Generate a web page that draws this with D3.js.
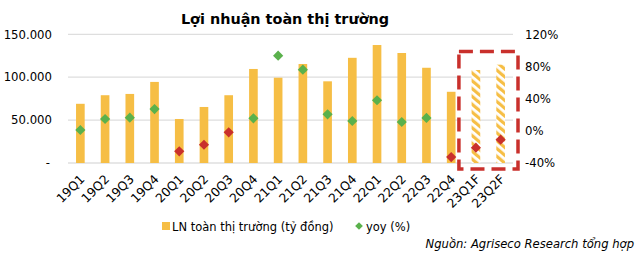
<!DOCTYPE html>
<html><head><meta charset="utf-8">
<script src="https://cdn.jsdelivr.net/npm/d3@7"></script>
<style>body{margin:0;background:#fff}svg{display:block}text{font-family:"DejaVu Sans",Verdana,sans-serif}</style>
</head><body><svg id="c" width="640" height="253"></svg>
<script>
const categories = ["19Q1","19Q2","19Q3","19Q4","20Q1","20Q2","20Q3","20Q4","21Q1","21Q2","21Q3","21Q4","22Q1","22Q2","22Q3","22Q4","23Q1F","23Q2F"];
const profit = [69000,79000,80500,94500,51300,65300,79000,109600,99400,115400,95200,122600,137500,128200,111000,83000,108400,114600];
const yoy = [1,14.7,16.3,27,-25.5,-17.3,-1.9,15.5,93.4,76,20.5,12.2,38,11,16,-32.6,-21,-11];
const forecast = ["23Q1F","23Q2F"];
const leftTicks = [0,50000,100000,150000];
const rightTicks = [-40,0,40,80,120];
const title = "Lợi nhuận toàn thị trường";
const legendLabels = ["LN toàn thị trường (tỷ đồng)","yoy (%)"];
const source = "Nguồn: Agriseco Research tổng hợp";

const svg = d3.select("#c");
const m = {l:68, r:513, t:34.3, b:163};
const x = d3.scaleBand().domain(categories).range([m.l, m.r]).paddingInner(0.65).paddingOuter(0.325);
const yL = d3.scaleLinear().domain([0,150000]).range([m.b, m.t]);
const yR = d3.scaleLinear().domain([-40,120]).range([m.b, m.t]);
const BAR="#F6BE45", GREEN="#5AB14C", RED="#C9302C";

const defs = svg.append("defs");
const pat = defs.append("pattern").attr("id","hatch").attr("patternUnits","userSpaceOnUse")
  .attr("width",6).attr("height",6).attr("patternTransform","rotate(-50)");
pat.append("rect").attr("width",6).attr("height",6).attr("fill","#fff");
pat.append("rect").attr("width",3.2).attr("height",6).attr("fill",BAR);

svg.append("text").attr("x",285).attr("y",24).attr("text-anchor","middle")
  .attr("font-size",14.4).attr("font-weight","bold").text(title);

// grid
svg.append("g").selectAll("line").data(leftTicks).join("line")
  .attr("x1",m.l).attr("x2",m.r).attr("y1",d=>yL(d)).attr("y2",d=>yL(d))
  .attr("stroke",d=>d===0?"#D0D0D0":"#DEDEDE").attr("stroke-width",1.2);

// left axis
const la = svg.append("g").attr("transform",`translate(${m.l},0)`)
  .call(d3.axisLeft(yL).tickValues(leftTicks).tickSize(0).tickPadding(16)
    .tickFormat(d=>d===0?"-":d3.format(",.0f")(d).replace(/,/g,".")));
la.select(".domain").remove();
la.selectAll("text").attr("font-size",11.7).attr("fill","#000").attr("font-family","DejaVu Sans, Verdana, sans-serif");
la.selectAll(".tick").filter(d=>d===0).select("text").attr("dx",-2);

// right axis
const ra = svg.append("g").attr("transform",`translate(${m.r},0)`)
  .call(d3.axisRight(yR).tickValues(rightTicks).tickSize(0).tickPadding(12).tickFormat(d=>d+"%"));
ra.select(".domain").remove();
ra.selectAll("text").attr("font-size",11.7).attr("fill","#000").attr("font-family","DejaVu Sans, Verdana, sans-serif");

// bars
svg.append("g").selectAll("rect").data(categories).join("rect")
  .attr("x",d=>x(d)).attr("width",x.bandwidth())
  .attr("y",(d,i)=>yL(profit[i])).attr("height",(d,i)=>yL(0)-yL(profit[i]))
  .attr("fill",d=>forecast.includes(d)?"url(#hatch)":BAR);

// diamonds
svg.append("g").selectAll("path").data(categories).join("path")
  .attr("d",d3.symbol(d3.symbolSquare,52))
  .attr("transform",(d,i)=>`translate(${x(d)+x.bandwidth()/2},${yR(yoy[i])}) rotate(45)`)
  .attr("fill",(d,i)=>yoy[i]<0?RED:GREEN);

// forecast box
const fx0 = x(forecast[0]) + x.bandwidth()/2 - 17, fx1 = m.r + 5;
svg.append("rect").attr("x",fx0).attr("y",yR(98.5)).attr("width",fx1-fx0).attr("height",yL(0)+6-yR(98.5))
  .attr("fill","none").attr("stroke",RED).attr("stroke-width",3.5).attr("stroke-dasharray","14,7");

// x labels
svg.append("g").selectAll("text").data(categories).join("text")
  .attr("transform",d=>`translate(${x(d)+x.bandwidth()/2+5},${180}) rotate(-45)`)
  .attr("text-anchor","end").attr("font-size",12.4).text(d=>d);

// legend
const lg = svg.append("g");
lg.append("rect").attr("x",162).attr("y",222).attr("width",8).attr("height",8).attr("fill",BAR);
lg.append("text").attr("x",172).attr("y",230.5).attr("font-size",11.5).text(legendLabels[0]);
lg.append("path").attr("d",d3.symbol(d3.symbolSquare,30)).attr("transform","translate(359,226) rotate(45)").attr("fill",GREEN);
lg.append("text").attr("x",366).attr("y",230.5).attr("font-size",11.5).text(legendLabels[1]);

svg.append("text").attr("x",634).attr("y",248).attr("text-anchor","end").attr("font-size",11.6)
  .attr("font-style","italic").text(source);
</script></body></html>
